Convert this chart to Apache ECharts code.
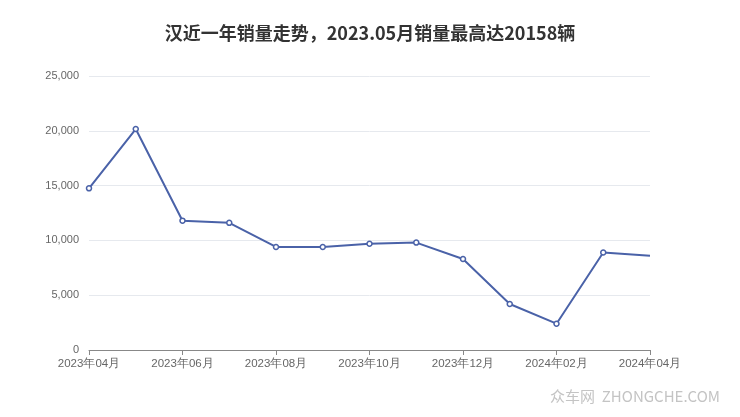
<!DOCTYPE html>
<html><head><meta charset="utf-8">
<script src="https://cdn.jsdelivr.net/npm/echarts@6/dist/echarts.min.js"></script>
<style>html,body{margin:0;padding:0;background:#fff}#c{width:740px;height:417px}</style>
</head><body><div id="c"></div>
<script>
var categories = ['2023年04月','2023年05月','2023年06月','2023年07月','2023年08月','2023年09月','2023年10月','2023年11月','2023年12月','2024年01月','2024年02月','2024年03月','2024年04月'];
var sales = [14750, 20158, 11800, 11600, 9400, 9400, 9700, 9800, 8300, 4200, 2400, 8900, 8600];
var titleText = '汉近一年销量走势，2023.05月销量最高达20158辆';
var watermark = '众车网  ZHONGCHE.COM';

var chart = echarts.init(document.getElementById('c'));
var seriesData = sales.map(function (v, i) {
  return i === sales.length - 1 ? { value: v, symbol: 'none' } : v;
});
chart.setOption({
  animation: false,
  title: {
    text: titleText, left: 'center', top: 19,
    textStyle: { fontSize: 18, fontWeight: 'bold', color: '#333', fontFamily: '"Noto Sans CJK SC", sans-serif' }
  },
  graphic: [{
    type: 'text', right: 20, top: 389,
    style: { text: watermark, fontSize: 15, fill: '#c4c4c4', fontFamily: '"Noto Sans CJK SC", sans-serif' }
  }],
  grid: { left: 89, right: 90, top: 76, bottom: 67 },
  xAxis: {
    type: 'category', data: categories, boundaryGap: false,
    axisLine: { lineStyle: { color: '#888' } },
    axisTick: { interval: 1, lineStyle: { color: '#888' } },
    axisLabel: { interval: 1, color: '#666', fontSize: 11.5, margin: 8 }
  },
  yAxis: {
    type: 'value', min: 0, max: 25000, interval: 5000,
    axisLine: { show: false }, axisTick: { show: false },
    axisLabel: { color: '#666', fontSize: 11, margin: 10,
      formatter: function (v) { return v.toLocaleString('en-US'); } },
    splitLine: { lineStyle: { color: '#e6e9ee' } }
  },
  series: [{
    type: 'line', data: seriesData,
    symbol: 'circle', symbolSize: 5, showAllSymbol: true,
    lineStyle: { color: '#4a62a8', width: 2 },
    itemStyle: { color: '#fff', borderColor: '#4a62a8', borderWidth: 1.5 }
  }]
});
</script></body></html>
